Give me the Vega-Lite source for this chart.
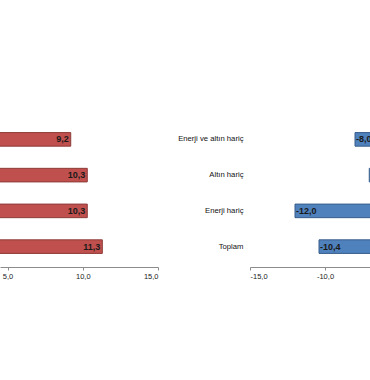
{
  "$schema": "https://vega.github.io/schema/vega-lite/v6.json",
  "padding": {"left": 0, "top": 119, "right": 0, "bottom": 0},
  "background": "white",
  "datasets": {
    "sol": [
      {"kategori": "Enerji ve altın hariç", "deger": 9.2},
      {"kategori": "Altın hariç", "deger": 10.3},
      {"kategori": "Enerji hariç", "deger": 10.3},
      {"kategori": "Toplam", "deger": 11.3}
    ],
    "sag": [
      {"kategori": "Enerji ve altın hariç", "deger": -8.0},
      {"kategori": "Altın hariç", "deger": -7.05},
      {"kategori": "Enerji hariç", "deger": -12.0},
      {"kategori": "Toplam", "deger": -10.4}
    ]
  },
  "spacing": 92,
  "bounds": "flush",
  "hconcat": [
    {
      "width": 158,
      "height": 148,
      "data": {"name": "sol"},
      "encoding": {
        "y": {
          "field": "kategori",
          "type": "nominal",
          "sort": ["Enerji ve altın hariç", "Altın hariç", "Enerji hariç", "Toplam"],
          "scale": {"paddingInner": 0.62, "paddingOuter": 0.38},
          "axis": null
        },
        "x": {
          "field": "deger",
          "type": "quantitative",
          "scale": {"domain": [4.5, 15], "zero": false, "nice": false},
          "axis": {"values": [5, 10, 15], "format": ".1f", "title": null, "grid": false}
        }
      },
      "layer": [
        {
          "mark": {"type": "bar", "clip": true, "color": "#C0504D", "stroke": "#8E3B39", "strokeWidth": 1},
          "encoding": {"x2": {"datum": 0}}
        },
        {
          "mark": {"type": "text", "clip": true, "align": "right", "dx": -2, "fontSize": 9, "fontWeight": "bold", "font": "Liberation Sans", "color": "#1a1a1a"},
          "encoding": {"text": {"field": "deger", "type": "quantitative", "format": ".1f"}}
        }
      ]
    },
    {
      "width": 120,
      "height": 148,
      "data": {"name": "sag"},
      "encoding": {
        "y": {
          "field": "kategori",
          "type": "nominal",
          "sort": ["Enerji ve altın hariç", "Altın hariç", "Enerji hariç", "Toplam"],
          "scale": {"paddingInner": 0.62, "paddingOuter": 0.38},
          "axis": {"title": null, "domain": false, "ticks": false, "labelPadding": 7, "labelFontSize": 7.7, "labelFont": "Liberation Sans", "labelColor": "#111111"}
        },
        "x": {
          "field": "deger",
          "type": "quantitative",
          "scale": {"domain": [-15, -7], "zero": false, "nice": false},
          "axis": {"values": [-15, -10, -5], "format": ".1f", "title": null, "grid": false}
        }
      },
      "layer": [
        {
          "mark": {"type": "bar", "clip": true, "color": "#4F81BD", "stroke": "#385D8A", "strokeWidth": 1},
          "encoding": {"x2": {"datum": 0}}
        },
        {
          "mark": {"type": "text", "clip": true, "align": "left", "dx": 1, "fontSize": 9, "fontWeight": "bold", "font": "Liberation Sans", "color": "#1a1a1a"},
          "encoding": {"text": {"field": "deger", "type": "quantitative", "format": ".1f"}}
        }
      ]
    }
  ],
  "config": {
    "view": {"stroke": null},
    "locale": {"number": {"decimal": ",", "thousands": ".", "grouping": [3], "currency": ["", " TL"], "minus": "-"}},
    "axisX": {
      "domainColor": "#8c8c8c",
      "tickColor": "#8c8c8c",
      "tickSize": 3,
      "labelPadding": 2,
      "labelFontSize": 7.5,
      "labelFont": "Liberation Sans",
      "labelColor": "#222222"
    }
  }
}
